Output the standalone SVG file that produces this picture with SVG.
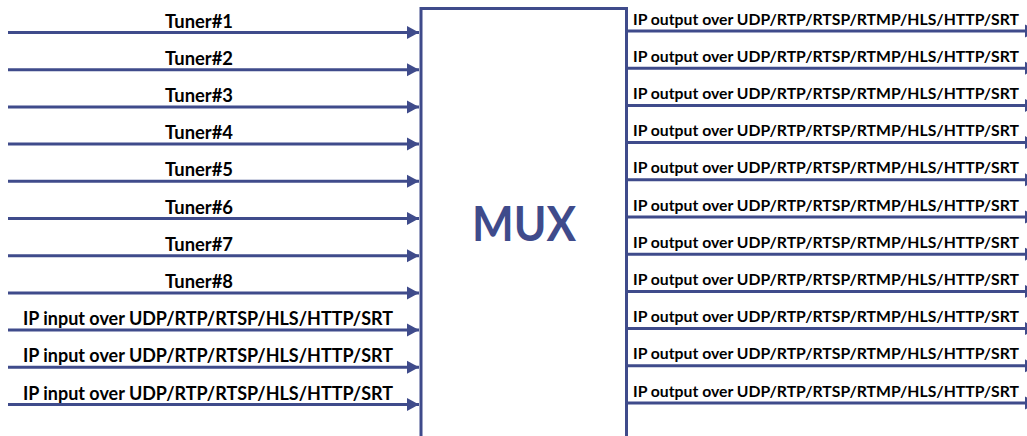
<svg xmlns="http://www.w3.org/2000/svg" width="1027" height="436" viewBox="0 0 1027 436">
<style>
.ln{stroke:#3f4b8b;stroke-width:3;fill:none}
.lbl{font-family:Lato,"Open Sans",sans-serif;font-weight:bold;fill:#000;font-size:19px}
.out{font-family:Lato,"Open Sans",sans-serif;font-weight:bold;fill:#000;font-size:15.8px}
.mux{font-family:Lato,"Open Sans",sans-serif;font-weight:bold;fill:#3f4b8b;font-size:48px}
</style>
<defs>
<marker id="ah" markerUnits="userSpaceOnUse" markerWidth="13" markerHeight="14" refX="12" refY="7" orient="auto">
<path d="M0,0.5 L12,7 L0,13.5 z" fill="#3f4b8b"/>
</marker>
</defs>
<rect width="1027" height="436" fill="#fff"/>
<g id="mux">
<path class="ln" d="M421,440 V8.5 H626.5 V440"/>
<text class="mux" x="524" y="241" text-anchor="middle" textLength="104" lengthAdjust="spacingAndGlyphs">MUX</text>
</g>
<g id="connectors">
<line class="ln" x1="8" y1="32.5" x2="419" y2="32.5" marker-end="url(#ah)"/>
<line class="ln" x1="8" y1="69.7" x2="419" y2="69.7" marker-end="url(#ah)"/>
<line class="ln" x1="8" y1="106.9" x2="419" y2="106.9" marker-end="url(#ah)"/>
<line class="ln" x1="8" y1="144.1" x2="419" y2="144.1" marker-end="url(#ah)"/>
<line class="ln" x1="8" y1="181.3" x2="419" y2="181.3" marker-end="url(#ah)"/>
<line class="ln" x1="8" y1="218.5" x2="419" y2="218.5" marker-end="url(#ah)"/>
<line class="ln" x1="8" y1="255.7" x2="419" y2="255.7" marker-end="url(#ah)"/>
<line class="ln" x1="8" y1="292.9" x2="419" y2="292.9" marker-end="url(#ah)"/>
<line class="ln" x1="8" y1="330.1" x2="419" y2="330.1" marker-end="url(#ah)"/>
<line class="ln" x1="8" y1="367.3" x2="419" y2="367.3" marker-end="url(#ah)"/>
<line class="ln" x1="8" y1="404.5" x2="419" y2="404.5" marker-end="url(#ah)"/>
<line class="ln" x1="627" y1="31" x2="1037" y2="31" marker-end="url(#ah)"/>
<line class="ln" x1="627" y1="68.2" x2="1037" y2="68.2" marker-end="url(#ah)"/>
<line class="ln" x1="627" y1="105.4" x2="1037" y2="105.4" marker-end="url(#ah)"/>
<line class="ln" x1="627" y1="142.6" x2="1037" y2="142.6" marker-end="url(#ah)"/>
<line class="ln" x1="627" y1="179.8" x2="1037" y2="179.8" marker-end="url(#ah)"/>
<line class="ln" x1="627" y1="217" x2="1037" y2="217" marker-end="url(#ah)"/>
<line class="ln" x1="627" y1="254.2" x2="1037" y2="254.2" marker-end="url(#ah)"/>
<line class="ln" x1="627" y1="291.4" x2="1037" y2="291.4" marker-end="url(#ah)"/>
<line class="ln" x1="627" y1="328.6" x2="1037" y2="328.6" marker-end="url(#ah)"/>
<line class="ln" x1="627" y1="365.8" x2="1037" y2="365.8" marker-end="url(#ah)"/>
<line class="ln" x1="627" y1="403" x2="1037" y2="403" marker-end="url(#ah)"/>
</g>
<g id="inputs">
<text class="lbl" x="165" y="27.5" textLength="68" lengthAdjust="spacingAndGlyphs">Tuner#1</text>
<text class="lbl" x="165" y="64.7" textLength="68" lengthAdjust="spacingAndGlyphs">Tuner#2</text>
<text class="lbl" x="165" y="101.9" textLength="68" lengthAdjust="spacingAndGlyphs">Tuner#3</text>
<text class="lbl" x="165" y="139.1" textLength="68" lengthAdjust="spacingAndGlyphs">Tuner#4</text>
<text class="lbl" x="165" y="176.3" textLength="68" lengthAdjust="spacingAndGlyphs">Tuner#5</text>
<text class="lbl" x="165" y="213.5" textLength="68" lengthAdjust="spacingAndGlyphs">Tuner#6</text>
<text class="lbl" x="165" y="250.7" textLength="68" lengthAdjust="spacingAndGlyphs">Tuner#7</text>
<text class="lbl" x="165" y="287.9" textLength="68" lengthAdjust="spacingAndGlyphs">Tuner#8</text>
<text class="lbl" x="23" y="325.1" textLength="370" lengthAdjust="spacingAndGlyphs">IP input over UDP/RTP/RTSP/HLS/HTTP/SRT</text>
<text class="lbl" x="23" y="362.3" textLength="370" lengthAdjust="spacingAndGlyphs">IP input over UDP/RTP/RTSP/HLS/HTTP/SRT</text>
<text class="lbl" x="23" y="399.5" textLength="370" lengthAdjust="spacingAndGlyphs">IP input over UDP/RTP/RTSP/HLS/HTTP/SRT</text>
</g>
<g id="outputs">
<text class="out" x="633" y="24.5" textLength="386" lengthAdjust="spacingAndGlyphs">IP output over UDP/RTP/RTSP/RTMP/HLS/HTTP/SRT</text>
<text class="out" x="633" y="61.7" textLength="386" lengthAdjust="spacingAndGlyphs">IP output over UDP/RTP/RTSP/RTMP/HLS/HTTP/SRT</text>
<text class="out" x="633" y="98.9" textLength="386" lengthAdjust="spacingAndGlyphs">IP output over UDP/RTP/RTSP/RTMP/HLS/HTTP/SRT</text>
<text class="out" x="633" y="136.1" textLength="386" lengthAdjust="spacingAndGlyphs">IP output over UDP/RTP/RTSP/RTMP/HLS/HTTP/SRT</text>
<text class="out" x="633" y="173.3" textLength="386" lengthAdjust="spacingAndGlyphs">IP output over UDP/RTP/RTSP/RTMP/HLS/HTTP/SRT</text>
<text class="out" x="633" y="210.5" textLength="386" lengthAdjust="spacingAndGlyphs">IP output over UDP/RTP/RTSP/RTMP/HLS/HTTP/SRT</text>
<text class="out" x="633" y="247.7" textLength="386" lengthAdjust="spacingAndGlyphs">IP output over UDP/RTP/RTSP/RTMP/HLS/HTTP/SRT</text>
<text class="out" x="633" y="284.9" textLength="386" lengthAdjust="spacingAndGlyphs">IP output over UDP/RTP/RTSP/RTMP/HLS/HTTP/SRT</text>
<text class="out" x="633" y="322.1" textLength="386" lengthAdjust="spacingAndGlyphs">IP output over UDP/RTP/RTSP/RTMP/HLS/HTTP/SRT</text>
<text class="out" x="633" y="359.3" textLength="386" lengthAdjust="spacingAndGlyphs">IP output over UDP/RTP/RTSP/RTMP/HLS/HTTP/SRT</text>
<text class="out" x="633" y="396.5" textLength="386" lengthAdjust="spacingAndGlyphs">IP output over UDP/RTP/RTSP/RTMP/HLS/HTTP/SRT</text>
</g>
</svg>
